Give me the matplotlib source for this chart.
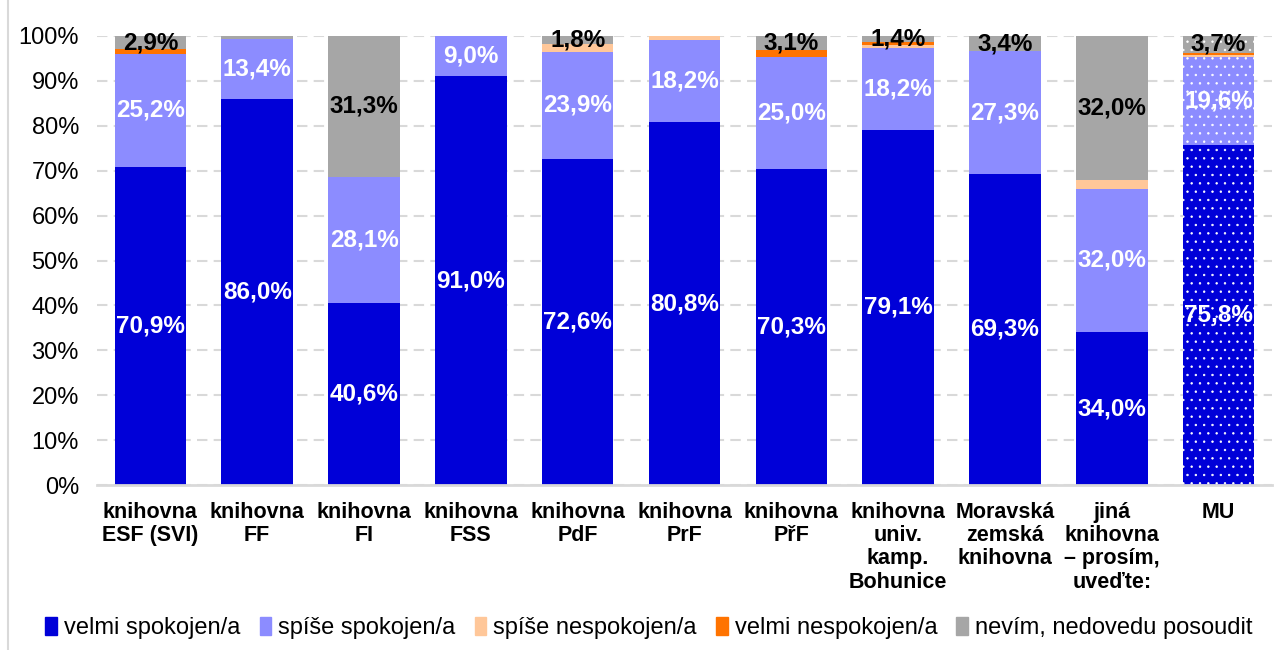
import numpy as np
import matplotlib.pyplot as plt
from matplotlib.lines import Line2D

plt.rcParams['font.family'] = ['Liberation Sans', 'DejaVu Sans']
plt.rcParams['hatch.linewidth'] = 0.5

categories = [
    "knihovna\nESF (SVI)", "knihovna\nFF", "knihovna\nFI", "knihovna\nFSS",
    "knihovna\nPdF", "knihovna\nPrF", "knihovna\nPřF",
    "knihovna\nuniv.\nkamp.\nBohunice", "Moravská\nzemská\nknihovna",
    "jiná\nknihovna\n– prosím,\nuveďte:", "MU",
]
series_names = ["velmi spokojen/a", "spíše spokojen/a", "spíše nespokojen/a",
                "velmi nespokojen/a", "nevím, nedovedu posoudit"]
velmi_spokojen = [70.9, 86.0, 40.6, 91.0, 72.6, 80.8, 70.3, 79.1, 69.3, 34.0, 75.8]
spise_spokojen = [25.2, 13.4, 28.1, 9.0, 23.9, 18.2, 25.0, 18.2, 27.3, 32.0, 19.6]
spise_nespokojen = [0.0, 0.0, 0.0, 0.0, 1.7, 1.0, 0.0, 0.6, 0.0, 2.0, 0.4]
velmi_nespokojen = [1.0, 0.0, 0.0, 0.0, 0.0, 0.0, 1.6, 0.7, 0.0, 0.0, 0.5]
nevim = [2.9, 0.6, 31.3, 0.0, 1.8, 0.0, 3.1, 1.4, 3.4, 32.0, 3.7]

colors = ["#0000D8", "#8C8CFF", "#FFC799", "#FF7300", "#A6A6A6"]
label_colors = ["white", "white", None, None, "black"]

data = [velmi_spokojen, spise_spokojen, spise_nespokojen, velmi_nespokojen, nevim]

fig = plt.figure(figsize=(12.82, 6.5), dpi=100)
ax = fig.add_axes([97 / 1282, 1 - 485 / 650, 1175 / 1282, 449 / 650])

x = np.arange(len(categories))
width = 0.67
bottom = np.zeros(len(categories))
for vals, color, name, lc in zip(data, colors, series_names, label_colors):
    vals = np.array(vals) / 100.0
    bars = ax.bar(x, vals, width, bottom=bottom, color=color, label=name,
                  linewidth=0, zorder=3)
    # MU bar has a white dotted pattern
    bars[-1].set_hatch("..")
    bars[-1].set_edgecolor("white")
    if lc is not None:
        for xi, v, b in zip(x, vals, bottom):
            if v * 100 >= 1.0:
                txt = f"{v * 100:.1f}%".replace(".", ",")
                ax.text(xi, b + v / 2, txt, ha="center", va="center",
                        color=lc, fontsize=17.5, fontweight="bold", zorder=5)
    bottom += vals

ax.set_xlim(-0.5, len(categories) - 0.5)
ax.set_ylim(0, 1.0)
ax.set_yticks(np.arange(0, 1.01, 0.1))
ax.set_yticklabels([f"{int(round(t * 100))}%" for t in np.arange(0, 1.01, 0.1)])
ax.set_xticks(x)
ax.set_xticklabels(categories, fontweight="bold", fontsize=15.5, va="top",
                   linespacing=1.15)
ax.tick_params(axis="y", length=0, pad=13, labelsize=17)
ax.tick_params(axis="x", length=0, pad=12)
ax.yaxis.grid(True, color="#D9D9D9", linestyle=(0, (5, 3)), linewidth=1.5, zorder=0)
ax.set_axisbelow(True)
for s in ["top", "right", "left"]:
    ax.spines[s].set_visible(False)
ax.spines["bottom"].set_color("#D9D9D9")
ax.spines["bottom"].set_linewidth(2)
ax.spines["bottom"].set_zorder(4)

handles = [plt.Rectangle((0, 0), 1, 1, color=c) for c in colors]
fig.legend(handles, series_names, loc="center", bbox_to_anchor=(649 / 1282, 1 - 628 / 650),
           ncol=5, frameon=False, fontsize=17, handlelength=0.5, handleheight=0.8,
           handletextpad=0.3, columnspacing=0.8)

fig.add_artist(Line2D([8 / 1282, 8 / 1282], [0, 1], color="#D9D9D9", linewidth=1.5))

fig.savefig("out.png", dpi=100)
